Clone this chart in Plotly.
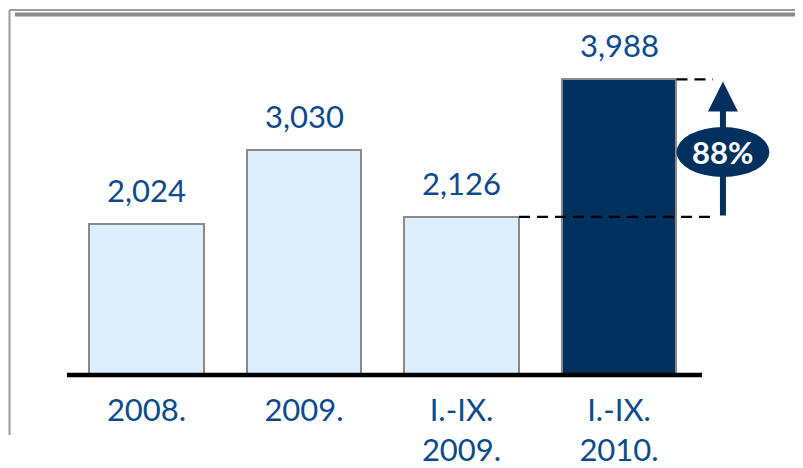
import plotly.graph_objects as go

# ---------------------------------------------------------------------------
# Data
# ---------------------------------------------------------------------------
periods = ["2008.", "2009.", "I.-IX.<br>2009.", "I.-IX.<br>2010."]
values = [2024, 3030, 2126, 3988]
highlight = [False, False, False, True]

LIGHT = "#ddeefc"
DARK = "#02315f"
EDGE = "#8a8a8a"
TEXT = "#0b4a8c"
FONT = "Lato, 'Open Sans', sans-serif"

# page is drawn with the default 8px body margin, so figure is 8px smaller
W, H = 795, 460
BASE = 366          # pixel row of the zero line inside the figure
PX_PER_UNIT = 0.0739


def px_x(p):
    """page pixel column -> paper x"""
    return (p - 8) / W


def px_y(p):
    """page pixel row -> paper y"""
    return (374 - p) / BASE


growth = values[3] / values[2] - 1
xs = list(range(len(values)))
bar_w = 0.73

fig = go.Figure(
    go.Bar(
        x=xs,
        y=values,
        width=bar_w,
        marker=dict(
            color=[DARK if h else LIGHT for h in highlight],
            line=dict(color=EDGE, width=2),
        ),
        showlegend=False,
        hoverinfo="skip",
    )
)

# value labels above the bars
for x, v in zip(xs, values):
    fig.add_annotation(
        x=x, y=v, text=f"{v:,}", showarrow=False, yanchor="bottom", yshift=13,
        font=dict(family=FONT, size=31, color=TEXT),
    )

ell_x = 3.66
ell_y = 3004
guide_end = 3.597
dash = "11px,7px"

shapes = [
    # frame lines
    dict(type="line", xref="paper", yref="paper", x0=px_x(9.5), x1=1,
         y0=px_y(10), y1=px_y(10), line=dict(color="#9a9a9a", width=2)),
    dict(type="line", xref="paper", yref="paper", x0=px_x(15), x1=1,
         y0=px_y(14.5), y1=px_y(14.5), line=dict(color="#8a8a8a", width=4)),
    dict(type="line", xref="paper", yref="paper", x0=px_x(9.5), x1=px_x(9.5),
         y0=px_y(10), y1=px_y(435), line=dict(color="#9a9a9a", width=2)),
    # baseline (paper y so it is not clipped by the plot area)
    dict(type="line", xref="x", yref="paper", x0=-0.505, x1=3.527,
         y0=px_y(375), y1=px_y(375), line=dict(color="black", width=4.5)),
    # dashed guides
    dict(type="line", xref="x", yref="y", x0=2 + bar_w / 2, x1=guide_end,
         y0=values[2], y1=values[2], line=dict(color="black", width=2.2, dash=dash)),
    dict(type="line", xref="x", yref="y", x0=3 + bar_w / 2, x1=guide_end,
         y0=values[3], y1=values[3], line=dict(color="black", width=2.2, dash=dash)),
    # growth ellipse
    dict(type="circle", xref="x", yref="y", x0=ell_x - 0.295, x1=ell_x + 0.295,
         y0=ell_y - 338, y1=ell_y + 338, fillcolor=DARK, line=dict(width=0)),
]
fig.update_layout(shapes=shapes)

# growth arrow
fig.add_annotation(
    x=ell_x, y=values[3] - 30, ax=ell_x, ay=values[2], axref="x", ayref="y",
    xref="x", yref="y", text="", showarrow=True, arrowhead=2, arrowsize=1,
    arrowwidth=6, arrowcolor=DARK, standoff=0, startstandoff=0,
)
fig.add_annotation(
    x=ell_x, y=ell_y, text=f"<b>{growth:.0%}</b>", showarrow=False,
    font=dict(family=FONT, size=31, color="white"),
)

x0 = -138.5 / 157.5
fig.update_xaxes(
    range=[x0, x0 + W / 157.5], tickvals=xs, ticktext=periods, showgrid=False,
    zeroline=False, showline=False, ticks="", ticklabelstandoff=15,
    tickfont=dict(family=FONT, size=31, color=TEXT),
)
fig.update_yaxes(range=[0, BASE / PX_PER_UNIT], visible=False,
                 showgrid=False, zeroline=False)

fig.update_layout(
    width=W,
    height=H,
    margin=dict(l=0, r=0, t=0, b=H - BASE),
    plot_bgcolor="white",
    paper_bgcolor="white",
    bargap=0,
)

fig.write_html("out.html")
